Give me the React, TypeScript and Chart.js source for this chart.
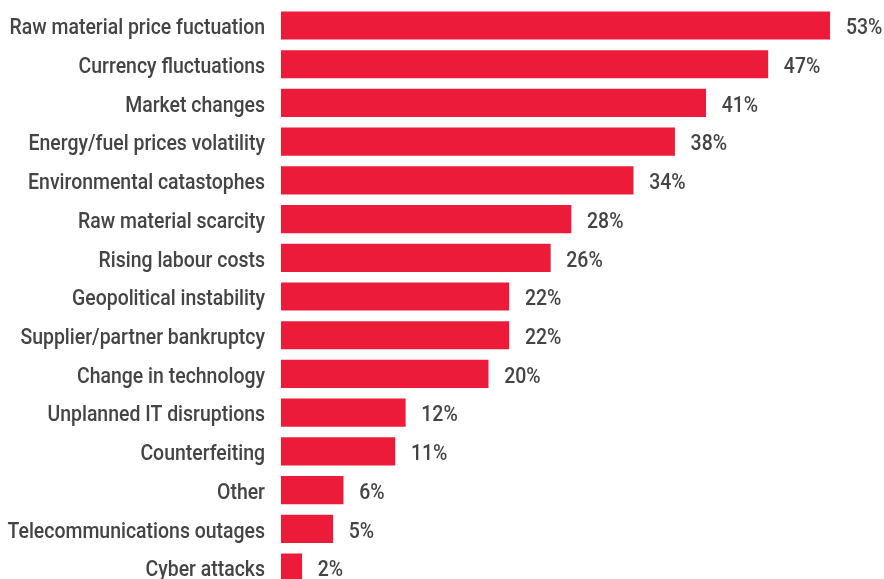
import React, { useEffect, useRef } from "react";
import { Chart, registerables } from "chart.js";

Chart.register(...registerables);

const categories = [
  "Raw material price fuctuation",
  "Currency fluctuations",
  "Market changes",
  "Energy/fuel prices volatility",
  "Environmental catastophes",
  "Raw material scarcity",
  "Rising labour costs",
  "Geopolitical instability",
  "Supplier/partner bankruptcy",
  "Change in technology",
  "Unplanned IT disruptions",
  "Counterfeiting",
  "Other",
  "Telecommunications outages",
  "Cyber attacks",
];
const values = [53, 47, 41, 38, 34, 28, 26, 22, 22, 20, 12, 11, 6, 5, 2];

const FONT = "500 22px Roboto, sans-serif";
const RED = "#ED1B3A";
const TEXT = "#444444";
const LABEL_RIGHT = 265;
const FIRST_LABEL_WIDTH = 255.5;

const textPlugin = {
  id: "textPlugin",
  afterDatasetsDraw(chart: any) {
    const ctx = chart.ctx;
    const meta = chart.getDatasetMeta(0);
    ctx.save();
    ctx.font = FONT;
    const sx = FIRST_LABEL_WIDTH / ctx.measureText(categories[0]).width;
    ctx.fillStyle = TEXT;
    ctx.textBaseline = "alphabetic";
    meta.data.forEach((bar: any, i: number) => {
      const baseline = bar.y + 8.8;
      ctx.save();
      ctx.translate(LABEL_RIGHT, baseline);
      ctx.scale(sx, 1);
      ctx.textAlign = "right";
      ctx.fillText(categories[i], 0, 0);
      ctx.restore();
      ctx.save();
      ctx.translate(bar.x + 16, baseline);
      ctx.scale(sx, 1);
      ctx.textAlign = "left";
      ctx.fillText(values[i] + "%", 0, 0);
      ctx.restore();
    });
    ctx.restore();
  },
};

export default function App() {
  const ref = useRef<HTMLCanvasElement>(null);
  useEffect(() => {
    document.body.style.margin = "0";
    const chart = new Chart(ref.current!, {
      type: "bar",
      data: {
        labels: categories,
        datasets: [
          {
            data: values,
            backgroundColor: RED,
            borderWidth: 0,
            barThickness: 27.5,
          },
        ],
      },
      options: {
        indexAxis: "y",
        animation: false,
        responsive: false,
        layout: { padding: { top: 6.14, bottom: 13.1, right: 54, left: 281 } },
        plugins: { legend: { display: false }, tooltip: { enabled: false } },
        scales: {
          x: { min: 0, max: 53, display: false },
          y: { display: false, offset: true },
        },
      },
      plugins: [textPlugin],
    });
    return () => chart.destroy();
  }, []);
  return (
    <div style={{ position: "absolute", left: 0, top: 0, width: 884, height: 579, overflow: "hidden", background: "#fff" }}>
      <canvas ref={ref} width={884} height={600} style={{ width: 884, height: 600 }} />
    </div>
  );
}
